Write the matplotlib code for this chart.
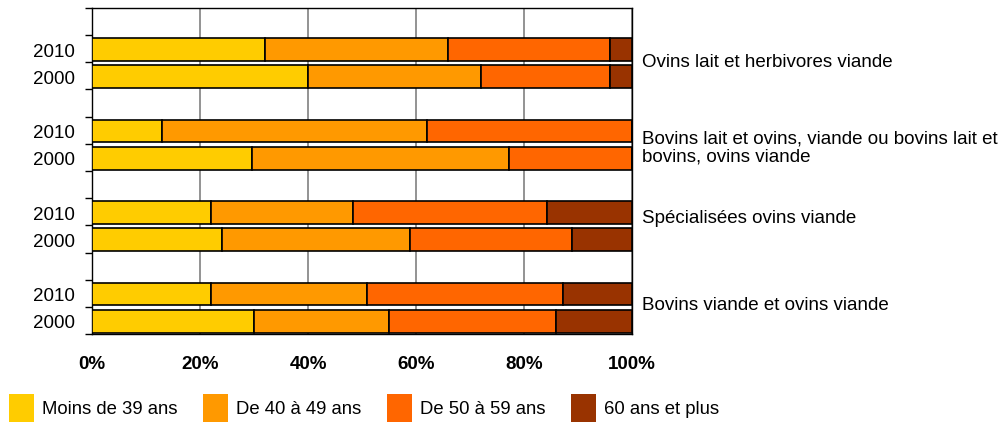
import numpy as np
from matplotlib import pyplot as plt
from matplotlib.patches import Patch

plt.rcParams["font.family"] = ["Liberation Sans", "DejaVu Sans"]

categories = [
    "Ovins lait et herbivores viande",
    "Bovins lait et ovins, viande ou bovins lait et\nbovins, ovins viande",
    "Spécialisées ovins viande",
    "Bovins viande et ovins viande",
]
years = ["2010", "2000"]
age_classes = ["Moins de 39 ans", "De 40 à 49 ans", "De 50 à 59 ans", "60 ans et plus"]
colors = ["#FFCC00", "#FF9900", "#FF6600", "#993300"]

# shares (%) per age class, one value per category
share_2010 = [
    [32, 13, 22, 22],
    [34, 49, 26.3, 28.9],
    [30, 38, 36, 36.4],
    [4, 0, 15.7, 12.7],
]
share_2000 = [
    [40, 29.6, 24, 30],
    [32, 47.7, 34.9, 25],
    [24, 22.7, 30, 30.9],
    [4, 0, 11.1, 14.1],
]

fig = plt.figure(figsize=(10, 4.23), dpi=100)
ax = fig.add_axes([0.092, 1 - 334 / 423, 0.54, 326 / 423])

n_cat = len(categories)
pos_2010 = np.arange(n_cat) * 3 + 1.53
pos_2000 = np.arange(n_cat) * 3 + 2.53

for shares, pos in ((share_2010, pos_2010), (share_2000, pos_2000)):
    left = np.zeros(n_cat)
    for k, vals in enumerate(shares):
        vals = np.array(vals, dtype=float)
        ax.barh(pos, vals, left=left, height=0.83, color=colors[k],
                edgecolor="black", linewidth=1.2, zorder=3)
        left += vals

ax.set_xlim(0, 100)
ax.set_ylim(3 * n_cat, 0)
ax.set_xticks(np.arange(0, 101, 20))
ax.set_xticklabels([f"{v}%" for v in range(0, 101, 20)], fontsize=13.5,
                   fontweight="bold")
ax.tick_params(axis="x", length=0, pad=16)
ax.set_yticks(np.arange(0, 3 * n_cat + 1))
ax.set_yticklabels([])
ax.tick_params(axis="y", length=5, width=1, color="black")
ax.grid(axis="x", color="#808080", linewidth=1.2, zorder=0)
for sp in ax.spines.values():
    sp.set_color("black")
    sp.set_linewidth(1)

label_shift = [0, 0.15, -0.25, -0.05]
for i in range(n_cat):
    ax.text(-0.032, pos_2010[i] + 0.1, years[0], transform=ax.get_yaxis_transform(),
            ha="right", va="center", fontsize=13.5)
    ax.text(-0.032, pos_2000[i] + 0.1, years[1], transform=ax.get_yaxis_transform(),
            ha="right", va="center", fontsize=13.5)
    ax.text(1.0185, 3 * i + 2 + label_shift[i], categories[i],
            transform=ax.get_yaxis_transform(),
            ha="left", va="center", fontsize=13.5, linespacing=1.12)

handles = [Patch(facecolor=c, edgecolor="none") for c in colors]
fig.legend(handles, age_classes, loc="center left", bbox_to_anchor=(0.009, 0.036),
           ncol=4, frameon=False, fontsize=13.3, handlelength=1.34,
           handleheight=2.0, handletextpad=0.43, columnspacing=1.4,
           borderpad=0, borderaxespad=0)

fig.savefig("out.png", dpi=100)
